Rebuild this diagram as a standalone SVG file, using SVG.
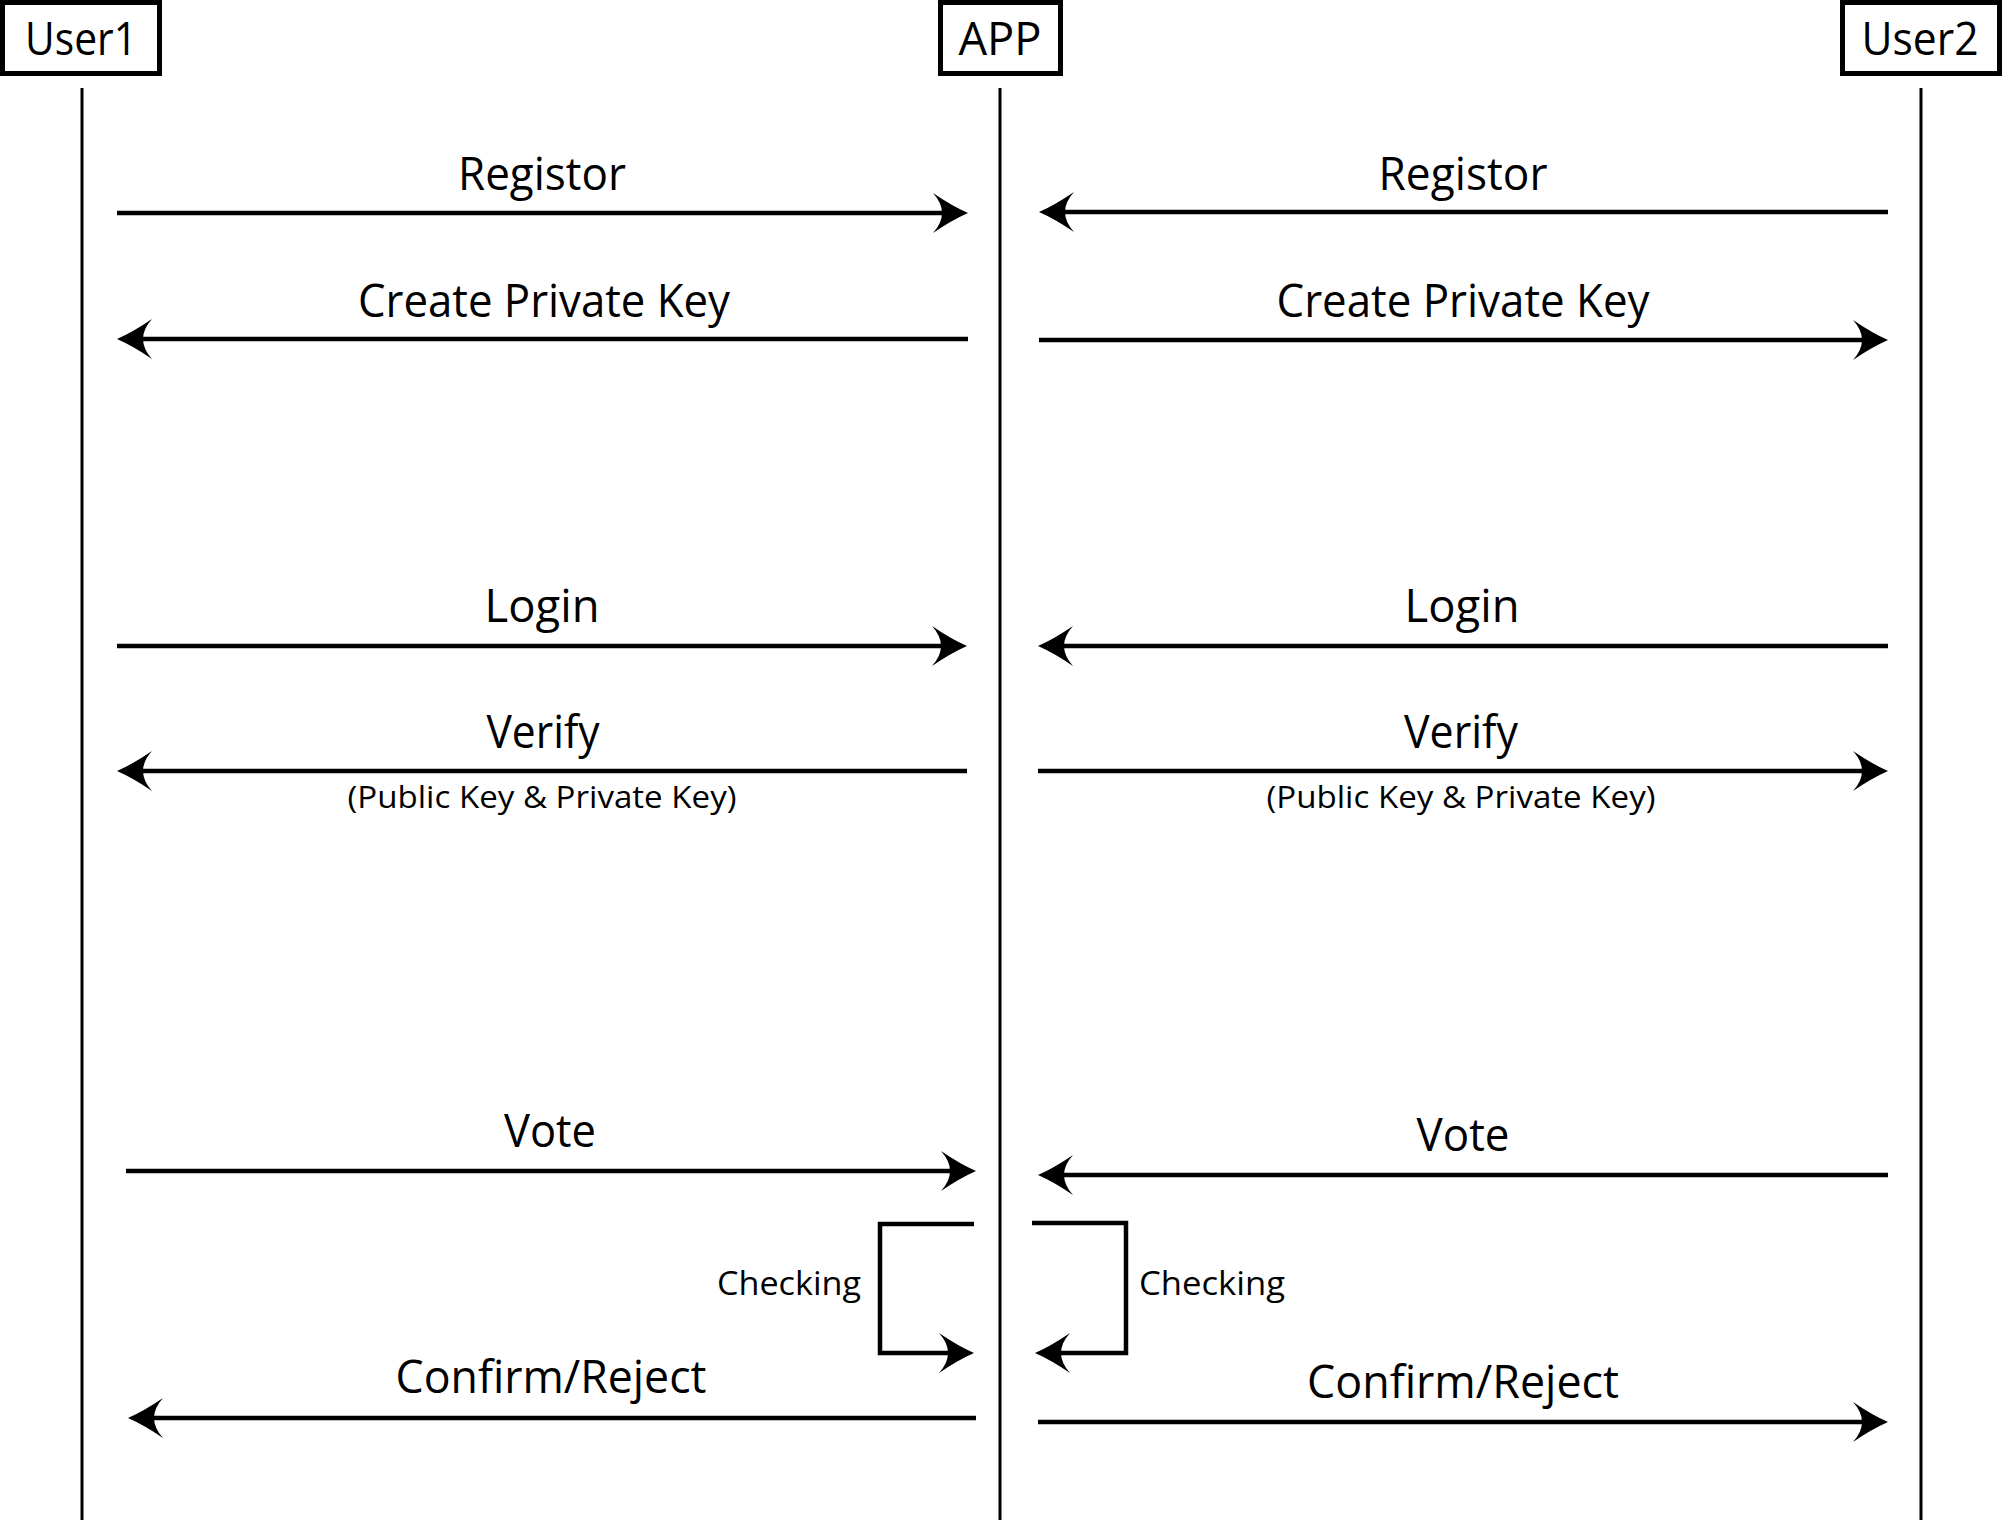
<svg xmlns="http://www.w3.org/2000/svg" width="2003" height="1520" viewBox="0 0 2003 1520">
<style>
.box{fill:#fff;stroke:#000;stroke-width:5}
.life{stroke:#000;stroke-width:3;fill:none}
.msg{stroke:#000;stroke-width:4.5;fill:none;marker-end:url(#ah)}
.t{font-family:"Open Sans","Liberation Sans",sans-serif;font-size:46px;fill:#000;text-anchor:middle}
.s{font-family:"Open Sans","Liberation Sans",sans-serif;font-size:31px;fill:#000;text-anchor:middle}
.c{font-family:"Open Sans","Liberation Sans",sans-serif;font-size:32px;fill:#000;text-anchor:middle}
</style>
<defs>
<marker id="ah" markerUnits="userSpaceOnUse" viewBox="-16 -21 40 42" markerWidth="40" markerHeight="42" refX="0" refY="0" orient="auto" overflow="visible">
<path d="M20,0 Q4,-7 -15,-20 Q-6,-10 -6,0 Q-6,10 -15,20 Q4,7 20,0 Z" fill="#000"/>
</marker>
</defs>
<rect width="2003" height="1520" fill="#fff"/>
<g id="user1">
<rect class="box" x="2.5" y="2.5" width="157" height="71"/>
<text class="t" x="81" y="55" textLength="112" lengthAdjust="spacingAndGlyphs">User1</text>
<line class="life" x1="82" y1="88" x2="82" y2="1520"/>
</g>
<g id="app">
<rect class="box" x="940.5" y="2.5" width="120" height="71"/>
<text class="t" x="1000" y="55" textLength="83" lengthAdjust="spacingAndGlyphs">APP</text>
<line class="life" x1="1000" y1="88" x2="1000" y2="1520"/>
</g>
<g id="user2">
<rect class="box" x="1842.5" y="2.5" width="157" height="71"/>
<text class="t" x="1920" y="55" textLength="117" lengthAdjust="spacingAndGlyphs">User2</text>
<line class="life" x1="1921" y1="88" x2="1921" y2="1520"/>
</g>
<g id="connectors">
<line class="msg" x1="117" y1="213" x2="948" y2="213"/>
<line class="msg" x1="968" y1="339" x2="137" y2="339"/>
<line class="msg" x1="117" y1="646" x2="947" y2="646"/>
<line class="msg" x1="967" y1="771" x2="137" y2="771"/>
<line class="msg" x1="126" y1="1171" x2="956" y2="1171"/>
<line class="msg" x1="976" y1="1418" x2="148" y2="1418"/>
<line class="msg" x1="1888" y1="212" x2="1059" y2="212"/>
<line class="msg" x1="1039" y1="340" x2="1868" y2="340"/>
<line class="msg" x1="1888" y1="646" x2="1058" y2="646"/>
<line class="msg" x1="1038" y1="771" x2="1868" y2="771"/>
<line class="msg" x1="1888" y1="1175" x2="1058" y2="1175"/>
<line class="msg" x1="1038" y1="1422" x2="1868" y2="1422"/>
<polyline class="msg" points="974,1224 880,1224 880,1353 954,1353"/>
<polyline class="msg" points="1032,1223 1126,1223 1126,1353 1055,1353"/>
</g>
<g id="labels">
<text class="t" x="542" y="190" textLength="168" lengthAdjust="spacingAndGlyphs">Registor</text>
<text class="t" x="1463" y="190" textLength="169" lengthAdjust="spacingAndGlyphs">Registor</text>
<text class="t" x="544" y="317" textLength="372" lengthAdjust="spacingAndGlyphs">Create Private Key</text>
<text class="t" x="1463" y="317" textLength="373" lengthAdjust="spacingAndGlyphs">Create Private Key</text>
<text class="t" x="542" y="622" textLength="115" lengthAdjust="spacingAndGlyphs">Login</text>
<text class="t" x="1462" y="622" textLength="115" lengthAdjust="spacingAndGlyphs">Login</text>
<text class="t" x="543" y="748" textLength="113" lengthAdjust="spacingAndGlyphs">Verify</text>
<text class="t" x="1461" y="748" textLength="114" lengthAdjust="spacingAndGlyphs">Verify</text>
<text class="s" x="542" y="808" textLength="389" lengthAdjust="spacingAndGlyphs">(Public Key &amp; Private Key)</text>
<text class="s" x="1461" y="808" textLength="389" lengthAdjust="spacingAndGlyphs">(Public Key &amp; Private Key)</text>
<text class="t" x="550" y="1147" textLength="92" lengthAdjust="spacingAndGlyphs">Vote</text>
<text class="t" x="1463" y="1151" textLength="93" lengthAdjust="spacingAndGlyphs">Vote</text>
<text class="c" x="789" y="1295" textLength="144" lengthAdjust="spacingAndGlyphs">Checking</text>
<text class="c" x="1212" y="1295" textLength="146" lengthAdjust="spacingAndGlyphs">Checking</text>
<text class="t" x="551" y="1393" textLength="311" lengthAdjust="spacingAndGlyphs">Confirm/Reject</text>
<text class="t" x="1463" y="1398" textLength="312" lengthAdjust="spacingAndGlyphs">Confirm/Reject</text>
</g>
</svg>
